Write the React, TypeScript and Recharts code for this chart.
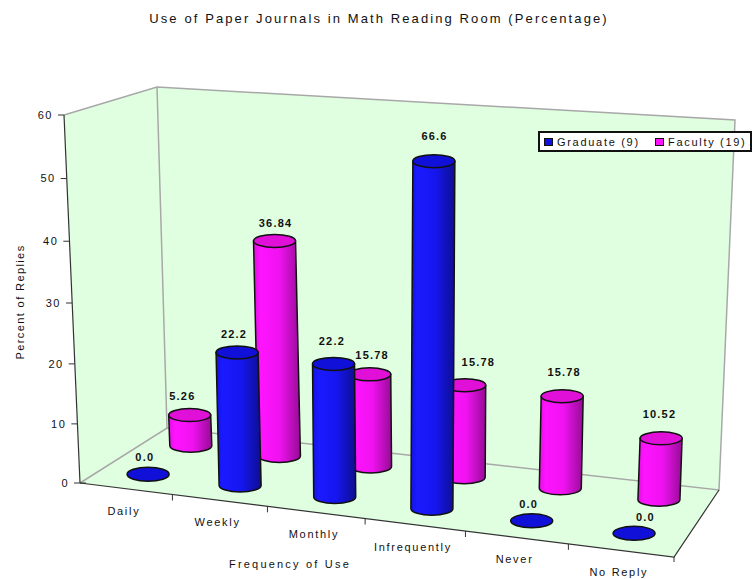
import { BarChart, Bar, XAxis, YAxis, Legend, LabelList } from 'recharts'

const categories = ['Daily', 'Weekly', 'Monthly', 'Infrequently', 'Never', 'No Reply']
const graduate = [0, 22.2, 22.2, 66.6, 0, 0]
const faculty = [5.26, 36.84, 15.78, 15.78, 15.78, 10.52]
const valueTicks = [0, 10, 20, 30, 40, 50, 60]
const AXIS_MAX = 60
// the tallest column is cut off a little under the top of the wall
const COLUMN_CEILING = 58

const chartData = categories.map((name, i) => ({ name, graduate: graduate[i], faculty: faculty[i] }))

const FONT = '"Liberation Sans", Arial, sans-serif'
const INK = '#111'

// corners of the floor, the chart is a flat plot pushed through this projection
const PLOT_LEFT = 80
const PLOT_WIDTH = 594
const FL = [80, 483]
const FR = [674, 557]
const BL = [167, 428]
const BR = [719, 490]
const TOP_FL = [64, 115]
const TOP_BL = [157, 87]
const TOP_BR = [735, 120]

// hand nudges for the value labels, by category
const GRADUATE_NUDGE = [[0, 1], [-1, 2], [-1, -3], [0, -5], [-5, 1], [8, 2]]
const FACULTY_NUDGE = [[-4, 1], [3, 2], [3, 1], [13, -3], [0, -4], [-5, -4]]

const lerp = (a: number, b: number, t: number) => a + (b - a) * t
const warp = (u: number) => u * (0.92 + 0.08 * u)
const floorPoint = (u: number, d: number) => {
  const w = warp(u)
  return {
    x: lerp(lerp(FL[0], FR[0], w), lerp(BL[0], BR[0], w), d),
    y: lerp(lerp(FL[1], FR[1], w), lerp(BL[1], BR[1], w), d)
  }
}
const pts = (list: number[][]) => list.map(p => p.join(',')).join(' ')
const columnHeight = (height: number, d: number) => height * lerp(0.99, 0.94, d)

const Walls = () => (
  <g>
    <defs>
      <linearGradient id="blueSide" x1="0" y1="0" x2="1" y2="0">
        <stop offset="0" stopColor="#1414e0" />
        <stop offset="0.15" stopColor="#1a1aff" />
        <stop offset="0.55" stopColor="#1616f0" />
        <stop offset="1" stopColor="#0e0e90" />
      </linearGradient>
      <linearGradient id="pinkSide" x1="0" y1="0" x2="1" y2="0">
        <stop offset="0" stopColor="#e010e0" />
        <stop offset="0.15" stopColor="#ff14ff" />
        <stop offset="0.55" stopColor="#f012f0" />
        <stop offset="1" stopColor="#960c96" />
      </linearGradient>
    </defs>
    <polygon points={pts([FL, TOP_FL, TOP_BL, BL])} fill="#e0ffe0" />
    <polygon points={pts([TOP_BL, TOP_BR, BR, BL])} fill="#e0ffe0" />
    <polygon points={pts([FL, BL, BR, FR])} fill="#e0ffe0" />
    <polyline points={pts([TOP_FL, TOP_BL, TOP_BR, BR, BL, FL])} fill="none" stroke="#a8a8a8" strokeWidth={1.5} />
    <line x1={TOP_BL[0]} y1={TOP_BL[1]} x2={BL[0]} y2={BL[1]} stroke="#a8a8a8" strokeWidth={1.5} />
    <line x1={TOP_FL[0]} y1={TOP_FL[1]} x2={FL[0]} y2={FL[1]} stroke="#333" strokeWidth={1.2} />
    <polyline points={pts([FL, FR, BR])} fill="none" stroke="#333" strokeWidth={1.2} />
    <line x1={FR[0]} y1={FR[1]} x2={FR[0]} y2={FR[1] + 5} stroke="#333" />
  </g>
)

const Cylinder = (props: any) => {
  const { x, width, height, depth, side, cap } = props
  const u = (x + width / 2 - PLOT_LEFT) / PLOT_WIDTH
  const base = floorPoint(u, depth)
  const rx = width / 2
  const ry = 6.5
  const h = columnHeight(height, depth)
  const lean = (lerp(-16, 16, warp(u)) / 370) * h
  const tx = base.x + lean
  const ty = base.y - h
  if (h < 1) {
    return <ellipse cx={base.x} cy={base.y} rx={rx} ry={ry + 0.5} fill={cap} stroke={INK} strokeWidth={1.5} />
  }
  return (
    <g stroke={INK} strokeWidth={1.5}>
      <path
        d={`M${tx - rx},${ty} L${base.x - rx},${base.y} A${rx},${ry} 0 0 0 ${base.x + rx},${base.y} L${tx + rx},${ty} Z`}
        fill={`url(#${side})`}
      />
      <ellipse cx={tx} cy={ty} rx={rx} ry={ry} fill={cap} />
    </g>
  )
}

const ValueLabel = (props: any) => {
  const { value, depth, index, nudge } = props
  const box = props.viewBox ?? props
  const u = (box.x + box.width / 2 - PLOT_LEFT) / PLOT_WIDTH
  const base = floorPoint(u, depth)
  const h = columnHeight(box.height, depth)
  const lean = (lerp(-16, 16, warp(u)) / 370) * h
  const gap = h < 1 ? 18 : 20
  const [dx, dy] = nudge[index] ?? [0, 0]
  return (
    <text
      x={base.x + lean + lerp(-4, 4, u) + dx}
      y={base.y - h - gap + dy}
      dy="0.35em"
      textAnchor="middle"
      fontFamily={FONT}
      fontSize={11}
      fontWeight={700}
      letterSpacing={1.2}
      fill={INK}
    >
      {Number(value) === 0 ? '0.0' : String(value)}
    </text>
  )
}

const ValueTick = ({ y, payload }: any) => {
  const t = payload.value / AXIS_MAX
  const ty = y + 16 * t * (1 - t)
  const ax = lerp(FL[0], TOP_FL[0], t)
  return (
    <g>
      <line x1={ax - 6} y1={ty} x2={payload.value === 0 ? ax + 6 : ax} y2={ty} stroke="#333" />
      <text x={ax - 11} y={ty} dy="0.35em" textAnchor="end" fontFamily={FONT} fontSize={11} letterSpacing={1.5} fill={INK}>
        {payload.value}
      </text>
    </g>
  )
}

const CategoryTick = ({ x, index, payload }: any) => {
  const u = (x - PLOT_LEFT) / PLOT_WIDTH
  const center = floorPoint(u, 0)
  const mark = floorPoint(index / categories.length, 0)
  return (
    <g>
      {index > 0 && <line x1={mark.x} y1={mark.y} x2={mark.x} y2={mark.y + 6} stroke="#333" />}
      <text
        x={center.x - 2}
        y={center.y + 22}
        dy="0.35em"
        textAnchor="middle"
        fontFamily={FONT}
        fontSize={11}
        letterSpacing={1.7}
        fill={INK}
      >
        {payload.value}
      </text>
    </g>
  )
}

const seriesKey = [
  { name: 'Graduate (9)', color: '#1010e0', width: 111 },
  { name: 'Faculty (19)', color: '#ff10ff', width: 92 }
]

const LegendBox = () => (
  <div
    style={{
      boxSizing: 'border-box',
      width: 214,
      height: 21,
      border: '2px solid #111',
      background: '#fff',
      display: 'flex',
      alignItems: 'center',
      paddingLeft: 4,
      fontFamily: FONT,
      fontSize: 11,
      letterSpacing: 1.7,
      color: INK
    }}
  >
    {seriesKey.map(item => (
      <span key={item.name} style={{ display: 'flex', alignItems: 'center', width: item.width, whiteSpace: 'nowrap' }}>
        <span
          style={{
            display: 'inline-block',
            boxSizing: 'border-box',
            width: 9,
            height: 8,
            marginRight: 4,
            background: item.color,
            border: '1px solid #111'
          }}
        />
        {item.name}
      </span>
    ))}
  </div>
)

export default function App() {
  return (
    <div style={{ position: 'absolute', left: 0, top: 0, width: 752, height: 579, background: '#fff' }}>
      <BarChart
        width={752}
        height={579}
        data={chartData}
        margin={{ top: 115, right: 78, bottom: 95, left: 79 }}
        barSize={42}
        barGap={-42}
        barCategoryGap={0}
      >
        <Walls />
        <XAxis dataKey="name" height={1} axisLine={false} tickLine={false} interval={0} tick={<CategoryTick />} />
        <YAxis
          width={1}
          domain={[0, AXIS_MAX]}
          ticks={valueTicks}
          axisLine={false}
          tickLine={false}
          interval={0}
          tick={<ValueTick />}
        />
        <Bar
          dataKey={(d: any) => Math.min(d.faculty, COLUMN_CEILING)}
          isAnimationActive={false}
          shape={<Cylinder depth={0.77} side="pinkSide" cap="#e010d8" />}
        >
          <LabelList dataKey="faculty" content={<ValueLabel depth={0.77} nudge={FACULTY_NUDGE} />} />
        </Bar>
        <Bar
          dataKey={(d: any) => Math.min(d.graduate, COLUMN_CEILING)}
          isAnimationActive={false}
          shape={<Cylinder depth={0.26} side="blueSide" cap="#1010d8" />}
        >
          <LabelList dataKey="graduate" content={<ValueLabel depth={0.26} nudge={GRADUATE_NUDGE} />} />
        </Bar>
        <Legend
          layout="horizontal"
          verticalAlign="middle"
          width={214}
          wrapperStyle={{ left: 538, top: 131, width: 214, height: 21 }}
          content={<LegendBox />}
        />
        <text x={379} y={18} dy="0.35em" textAnchor="middle" fontFamily={FONT} fontSize={13} letterSpacing={2.1} fill={INK}>
          Use of Paper Journals in Math Reading Room (Percentage)
        </text>
        <text
          x={20}
          y={302}
          dy="0.35em"
          textAnchor="middle"
          fontFamily={FONT}
          fontSize={11}
          letterSpacing={1.4}
          fill={INK}
          transform="rotate(-90 20 302)"
        >
          Percent of Replies
        </text>
        <text x={290} y={564} dy="0.35em" textAnchor="middle" fontFamily={FONT} fontSize={11} letterSpacing={2.2} fill={INK}>
          Frequency of Use
        </text>
      </BarChart>
    </div>
  )
}
